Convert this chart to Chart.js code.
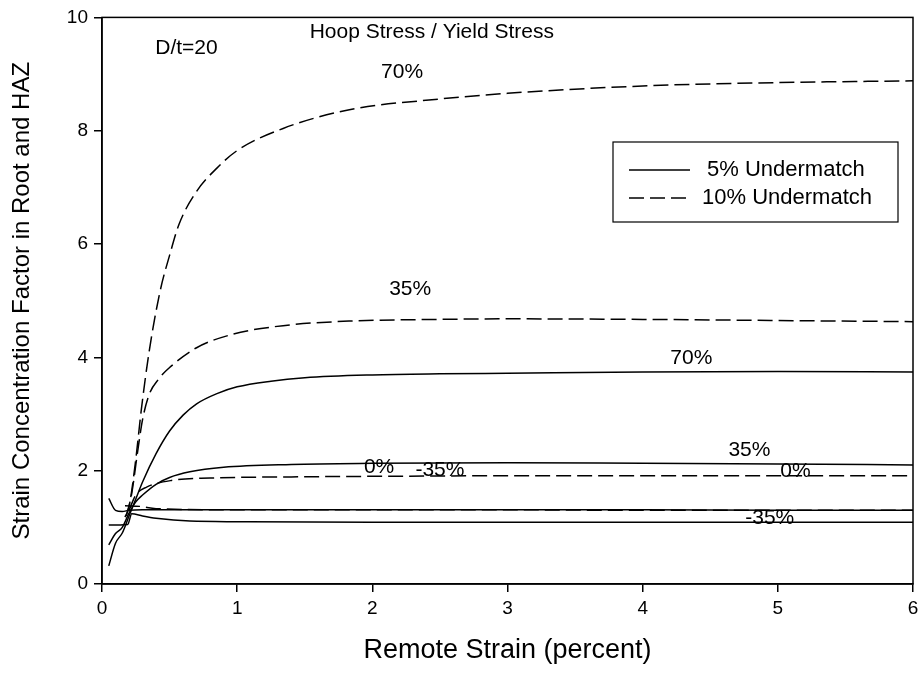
<!DOCTYPE html>
<html>
<head>
<meta charset="utf-8">
<title>Strain Concentration Factor</title>
<script src="https://cdn.jsdelivr.net/npm/chart.js@4.4.1/dist/chart.umd.min.js"></script>
<style>
    html, body { margin: 0; padding: 0; background: #fff; }
    #wrap { width: 924px; height: 682px; }
</style>
</head>
<body>
<div id="wrap"><canvas id="chart" width="924" height="682"></canvas></div>
<script>
// Data (remote strain %, concentration factor)
// 5% undermatch (solid)
const solid70X = [0.05, 0.1, 0.15, 0.2, 0.25, 0.3, 0.4, 0.5, 0.6, 0.7, 0.85, 1.0, 1.25, 1.5, 2, 2.5, 3, 4, 5, 6];
const solid70Y = [0.32, 0.72, 0.9, 1.2, 1.5, 1.8, 2.3, 2.7, 2.98, 3.18, 3.36, 3.48, 3.58, 3.64, 3.69, 3.71, 3.72, 3.74, 3.75, 3.74];
const solid35X = [0.05, 0.1, 0.15, 0.2, 0.25, 0.3, 0.4, 0.5, 0.65, 0.9, 1.4, 2, 3, 4, 5, 6];
const solid35Y = [0.69, 0.89, 1.0, 1.25, 1.45, 1.57, 1.76, 1.88, 1.98, 2.06, 2.11, 2.13, 2.14, 2.13, 2.12, 2.10];
const solid0X = [0.05, 0.1, 0.15, 0.2, 0.3, 0.5, 1, 2, 3, 4, 5, 6];
const solid0Y = [1.51, 1.30, 1.28, 1.30, 1.31, 1.31, 1.31, 1.31, 1.31, 1.31, 1.30, 1.30];
const solidM35X = [0.05, 0.19, 0.22, 0.3, 0.4, 0.65, 1.0, 2, 3, 4, 5, 6];
const solidM35Y = [1.04, 1.05, 1.24, 1.2, 1.16, 1.11, 1.10, 1.09, 1.09, 1.09, 1.09, 1.09];

// 10% undermatch (dashed)
const dash70X = [0.17, 0.2, 0.25, 0.29, 0.35, 0.43, 0.5, 0.57, 0.7, 0.85, 1.0, 1.34, 1.83, 2.5, 3, 4, 5, 6];
const dash70Y = [1.18, 1.36, 2.2, 3.06, 4.12, 5.17, 5.8, 6.35, 6.93, 7.34, 7.65, 8.04, 8.37, 8.56, 8.66, 8.79, 8.85, 8.88];
const dash35X = [0.18, 0.22, 0.265, 0.3, 0.35, 0.42, 0.5, 0.7, 0.97, 1.34, 1.83, 2.5, 3, 4, 5, 6];
const dash35Y = [1.2, 1.6, 2.36, 2.9, 3.35, 3.62, 3.82, 4.17, 4.41, 4.56, 4.64, 4.67, 4.68, 4.67, 4.65, 4.63];
const dash0X = [0.2, 0.25, 0.33, 0.52, 0.8, 1.4, 2, 3, 4, 5, 6];
const dash0Y = [1.3, 1.57, 1.71, 1.83, 1.87, 1.89, 1.9, 1.91, 1.91, 1.91, 1.91];
const dashM35X = [0.17, 0.28, 0.4, 1, 2, 3, 4, 5, 6];
const dashM35Y = [1.38, 1.37, 1.33, 1.31, 1.31, 1.31, 1.30, 1.30, 1.30];

// Axis ticks
const xTicks = [0, 1, 2, 3, 4, 5, 6];
const yTicks = [0, 2, 4, 6, 8, 10];

// Text notes placed in data coordinates
const noteTexts = ['D/t=20', 'Hoop Stress / Yield Stress', '70%', '35%', '70%', '35%', '0%', '-35%', '0%', '-35%'];
const noteX = [0.625, 2.44, 2.22, 2.28, 4.36, 4.79, 2.05, 2.50, 5.13, 4.94];
const noteY = [9.45, 9.74, 9.04, 5.21, 3.98, 2.36, 2.06, 2.0, 1.99, 1.16];

const legendLabels = ['5% Undermatch', '10% Undermatch'];

const FONT = "'Liberation Sans', Arial, sans-serif";
const DASH = [15, 6];

function toPoints(xs, ys) {
    return xs.map((x, i) => ({ x: x, y: ys[i] }));
}

function makeSet(label, xs, ys, dashed) {
    return {
        label: label,
        data: toPoints(xs, ys),
        showLine: true,
        borderColor: '#000',
        borderWidth: 1.5,
        borderDash: dashed ? DASH : [],
        pointRadius: 0,
        cubicInterpolationMode: 'monotone',
        fill: false
    };
}

// Frame, notes and in-plot legend
const decorPlugin = {
    id: 'decor',
    afterDatasetsDraw(chart) {
        const ctx = chart.ctx;
        const area = chart.chartArea;
        const xs = chart.scales.x;
        const ys = chart.scales.y;

        ctx.save();
        ctx.strokeStyle = '#000';
        ctx.lineWidth = 1.5;
        ctx.strokeRect(area.left, area.top, area.right - area.left, area.bottom - area.top);

        ctx.fillStyle = '#000';
        ctx.font = '21px ' + FONT;
        ctx.textAlign = 'center';
        ctx.textBaseline = 'middle';
        noteTexts.forEach((t, i) => {
            ctx.fillText(t, xs.getPixelForValue(noteX[i]), ys.getPixelForValue(noteY[i]));
        });

        // legend box
        const bx = 613, by = 142, bw = 285, bh = 80;
        ctx.lineWidth = 1.2;
        ctx.strokeRect(bx, by, bw, bh);
        ctx.lineWidth = 1.5;
        ctx.textAlign = 'left';
        ctx.font = '22px ' + FONT;
        [false, true].forEach((dashed, i) => {
            const ly = by + 28 + i * 28;
            ctx.setLineDash(dashed ? DASH : []);
            ctx.beginPath();
            ctx.moveTo(bx + 16, ly);
            ctx.lineTo(bx + 77, ly);
            ctx.stroke();
            ctx.setLineDash([]);
            ctx.fillText(legendLabels[i], bx + (dashed ? 89 : 94), ly);
        });
        ctx.restore();
    }
};

const ctx = document.getElementById('chart').getContext('2d');
new Chart(ctx, {
    type: 'scatter',
    data: {
        datasets: [
            makeSet('5% 70%', solid70X, solid70Y, false),
            makeSet('5% 35%', solid35X, solid35Y, false),
            makeSet('5% 0%', solid0X, solid0Y, false),
            makeSet('5% -35%', solidM35X, solidM35Y, false),
            makeSet('10% 70%', dash70X, dash70Y, true),
            makeSet('10% 35%', dash35X, dash35Y, true),
            makeSet('10% 0%', dash0X, dash0Y, true),
            makeSet('10% -35%', dashM35X, dashM35Y, true)
        ]
    },
    options: {
        responsive: false,
        animation: false,
        layout: { padding: { top: 15, right: 11, left: 0, bottom: 0 } },
        plugins: {
            legend: { display: false },
            tooltip: { enabled: false }
        },
        scales: {
            x: {
                type: 'linear',
                min: 0,
                max: 6,
                afterBuildTicks: (scale) => { scale.ticks = xTicks.map(v => ({ value: v })); },
                afterFit: (scale) => { scale.height = 98; },
                ticks: { color: '#000', font: { family: FONT, size: 19 }, padding: 5, maxRotation: 0 },
                grid: { drawOnChartArea: false, drawTicks: true, tickLength: 8, color: '#000', lineWidth: 1.5 },
                border: { display: true, color: '#000', width: 1.5 },
                title: { display: true, text: 'Remote Strain (percent)', color: '#000', font: { family: FONT, size: 27 }, padding: { top: 0, bottom: 15 } }
            },
            y: {
                type: 'linear',
                min: 0,
                max: 10,
                afterBuildTicks: (scale) => { scale.ticks = yTicks.map(v => ({ value: v })); },
                afterFit: (scale) => { scale.width = 102; },
                ticks: { color: '#000', font: { family: FONT, size: 19 }, padding: 6 },
                grid: { drawOnChartArea: false, drawTicks: true, tickLength: 8, color: '#000', lineWidth: 1.5 },
                border: { display: true, color: '#000', width: 1.5 },
                title: { display: true, text: 'Strain Concentration Factor in Root and HAZ', color: '#000', font: { family: FONT, size: 24 }, padding: { top: 8, bottom: 0 } }
            }
        }
    },
    plugins: [decorPlugin]
});
</script>
</body>
</html>
